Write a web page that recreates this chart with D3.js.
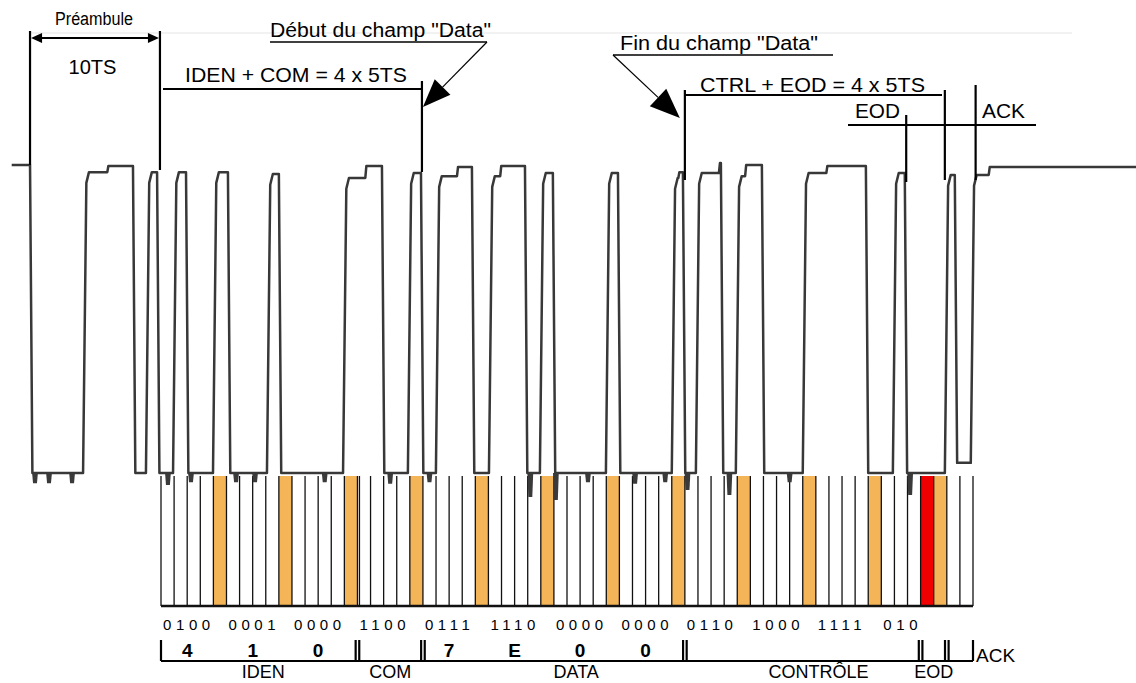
<!DOCTYPE html>
<html>
<head>
<meta charset="utf-8">
<script src="https://cdn.jsdelivr.net/npm/d3@7"></script>
<style>
  body { margin: 0; background: #fff; }
  svg { display: block; }
  text { font-family: "Liberation Sans", Arial, sans-serif; fill: #000; }
</style>
</head>
<body>
<svg id="chart" width="1136" height="683"></svg>
<script>
// ---- data (time in TS = time slots, level 0 = low, 1 = high) ----
const slotCount = 62;
const orangeSlots = [4, 9, 14, 19, 24, 29, 34, 39, 44, 49, 54, 59];
const redSlots = [58];
const bitGroups = ["0100", "0001", "0000", "1100", "0111", "1110", "0000", "0000", "0110", "1000", "1111", "010"];
const hexValues = ["4", "1", "0", "7", "E", "0", "0"];
const hexNibbles = [0, 1, 2, 4, 5, 6, 7];
const fieldBounds = [0, 15, 20, 40, 58, 60, 62];
const fieldNames = ["IDEN", "COM", "DATA", "CONTRÔLE", "EOD"];
const fieldLabelTS = [7.8, 17.5, 31.7, 50.2, 59];

// waveform pulses
const riseTS    = [-11.4, -5.95, -1.15, 0.92, 3.97, 8.09, 13.9, 18.85, 20.99, 25.04, 28.93, 33.97, 39.0, 40.84, 43.89, 49.0, 55.88, 59.85, 61.83];
const fallTS    = [-10.0, -2.14, -0.3, 1.91, 5.11, 9.0, 16.87, 19.85, 23.74, 27.79, 29.92, 34.89, 39.85, 42.75, 45.88, 53.82, 56.79, 60.61, null];
const topLevel  = [1.003, 0.98, 0.98, 0.98, 0.98, 0.974, 0.961, 0.977, 0.967, 0.967, 0.977, 0.977, 0.961, 0.977, 0.967, 0.977, 0.977, 0.971, 0.971];
const stepTS    = [null, -4.1, null, null, null, null, 15.6, null, 22.6, 25.9, null, null, 39.5, 42.6, 44.6, 50.8, null, null, 63.2];
const stepLevel = [null, 1.0, null, null, null, null, 1.0, null, 0.997, 1.0, null, null, 0.98, 1.01, 1.003, 1.0, null, null, 0.997];
const lowLevel  = [0, 0, 0, 0, 0, 0, 0, 0, 0, 0, 0, 0, 0, 0, 0, 0, 0, 0.033, 0];
const endTS = 74.5;

// little noise blobs hanging below the low level
const glitchTS    = [-9.62, -8.55, -6.79, 0.53, 2.29, 5.73, 7.18, 12.5, 17.5, 20.5, 28.2, 30.15, 32.6, 36.2, 38.5, 40.2, 43.4, 48.0, 57.2];
const glitchLevel = [-0.033, -0.033, -0.033, -0.039, -0.03, -0.03, -0.03, -0.03, -0.035, -0.03, -0.078, -0.088, -0.03, -0.035, -0.03, -0.055, -0.072, -0.03, -0.072];

const svg = d3.select("#chart");
const x = d3.scaleLinear().domain([0, slotCount]).range([161, 973]);
const y = d3.scaleLinear().domain([0, 1]).range([473, 166]);

const gridTop = 476, gridBottom = 606;

// faint scan line at the top
svg.append("line").attr("x1", 30).attr("x2", 1072).attr("y1", 33).attr("y2", 33)
  .attr("stroke", "#eeeeee").attr("stroke-width", 1.5);

// ---- slot grid ----
const grid = svg.append("g");
grid.selectAll("rect.orange")
  .data(orangeSlots)
  .enter().append("rect")
  .attr("class", "orange")
  .attr("x", d => x(d))
  .attr("y", gridTop)
  .attr("width", d => x(d + 1) - x(d))
  .attr("height", gridBottom - gridTop)
  .attr("fill", "#f3b558");

grid.selectAll("rect.red")
  .data(redSlots)
  .enter().append("rect")
  .attr("class", "red")
  .attr("x", d => x(d))
  .attr("y", gridTop)
  .attr("width", d => x(d + 1) - x(d))
  .attr("height", gridBottom - gridTop)
  .attr("fill", "#f00000");

grid.selectAll("line.slot")
  .data(d3.range(0, slotCount + 1))
  .enter().append("line")
  .attr("class", "slot")
  .attr("x1", d => x(d)).attr("x2", d => x(d))
  .attr("y1", gridTop).attr("y2", gridBottom)
  .attr("stroke", "#111").attr("stroke-width", 1.3);

// double line between IDEN and COM
grid.append("line")
  .attr("x1", x(15) + 2).attr("x2", x(15) + 2)
  .attr("y1", gridTop).attr("y2", gridBottom)
  .attr("stroke", "#111").attr("stroke-width", 1.3);

grid.append("line")
  .attr("x1", x(0)).attr("x2", x(slotCount))
  .attr("y1", gridBottom).attr("y2", gridBottom)
  .attr("stroke", "#111").attr("stroke-width", 2.5);

// ---- waveform ----
const pts = [];
riseTS.forEach((r, i) => {
  const top = topLevel[i];
  if (i === 0) {
    pts.push([r, top]);
  } else {
    const low = lowLevel[i - 1];
    pts.push([r, low], [r + 0.25, top - 0.035], [r + 0.45, top]);
  }
  let last = top;
  if (stepTS[i] != null) {
    pts.push([stepTS[i], top], [stepTS[i] + 0.08, stepLevel[i]]);
    last = stepLevel[i];
  }
  if (fallTS[i] != null) {
    pts.push([fallTS[i], last], [fallTS[i] + 0.18, lowLevel[i]]);
  } else {
    pts.push([endTS, last]);
  }
});

const line = d3.line().x(d => x(d[0])).y(d => y(d[1]));

svg.append("g").selectAll("path.glitch")
  .data(glitchTS.map((t, i) => [t, glitchLevel[i]]))
  .enter().append("path")
  .attr("class", "glitch")
  .attr("d", d => `M${x(d[0] - 0.22)},${y(0)} L${x(d[0] - 0.15)},${y(d[1])} L${x(d[0] + 0.15)},${y(d[1])} L${x(d[0] + 0.22)},${y(0)} Z`)
  .attr("fill", "#3a3a3a");

svg.append("path")
  .datum(pts)
  .attr("d", line)
  .attr("fill", "none")
  .attr("stroke", "#383838")
  .attr("stroke-width", 2.5)
  .attr("stroke-linejoin", "round");

// ---- bit / hex / field rows ----
svg.append("g").selectAll("text.bits")
  .data(bitGroups)
  .enter().append("text")
  .attr("class", "bits")
  .attr("x", (d, i) => x(i * 5) + 2)
  .attr("y", 630)
  .attr("font-size", 15)
  .attr("letter-spacing", "4.6px")
  .text(d => d);

svg.append("g").selectAll("text.hex")
  .data(hexValues)
  .enter().append("text")
  .attr("class", "hex")
  .attr("x", (d, i) => x(hexNibbles[i] * 5 + 2))
  .attr("y", 657)
  .attr("text-anchor", "middle")
  .attr("font-size", 19)
  .attr("font-weight", "bold")
  .text(d => d);

const brackets = svg.append("g").attr("stroke", "#000").attr("stroke-width", 2.2);
brackets.append("line")
  .attr("x1", x(0)).attr("x2", x(slotCount))
  .attr("y1", 661).attr("y2", 661);
fieldBounds.forEach((b, i) => {
  const offs = (i === 0 || i === fieldBounds.length - 1) ? [0] : [-1.8, 1.8];
  offs.forEach(o => {
    brackets.append("line")
      .attr("x1", x(b) + o).attr("x2", x(b) + o)
      .attr("y1", 640).attr("y2", 661);
  });
});

svg.append("g").selectAll("text.field")
  .data(fieldNames)
  .enter().append("text")
  .attr("class", "field")
  .attr("x", (d, i) => x(fieldLabelTS[i]))
  .attr("y", 678)
  .attr("text-anchor", "middle")
  .attr("font-size", 18)
  .text(d => d);

svg.append("text").attr("x", x(slotCount) + 3).attr("y", 662)
  .attr("font-size", 19).text("ACK");

// ---- annotations above the trace ----
const ann = svg.append("g").attr("stroke", "#000").attr("stroke-width", 2.2);
function vline(t, y1, y2) {
  ann.append("line").attr("x1", x(t)).attr("x2", x(t)).attr("y1", y1).attr("y2", y2);
}
function hline(x1, x2, yy, w) {
  ann.append("line").attr("x1", x1).attr("x2", x2).attr("y1", yy).attr("y2", yy)
    .attr("stroke-width", w || 2.2);
}
function arrowHead(tip, from, len, half) {
  const dx = tip[0] - from[0], dy = tip[1] - from[1];
  const L = Math.hypot(dx, dy), ux = dx / L, uy = dy / L;
  const bx = tip[0] - ux * len, by = tip[1] - uy * len;
  svg.append("path")
    .attr("d", `M${tip[0]},${tip[1]} L${bx - uy * half},${by + ux * half} L${bx + uy * half},${by - ux * half} Z`)
    .attr("fill", "#000");
  return [bx, by];
}

// preamble
vline(-10, 31, 165);
ann.append("line").attr("x1", x(-0.08)).attr("x2", x(-0.08)).attr("y1", 31).attr("y2", 170);
hline(x(-10) + 8, x(-0.08) - 8, 38);
arrowHead([x(-10) + 1, 38], [x(-10) + 20, 38], 11, 5);
arrowHead([x(-0.08) - 1, 38], [x(-0.08) - 20, 38], 11, 5);

// IDEN + COM
hline(x(0) + 2, x(20) - 1, 89);
ann.append("line").attr("x1", x(20) - 1).attr("x2", x(20) - 1).attr("y1", 81).attr("y2", 172);

// Début du champ "Data"
hline(270, 487, 42, 1.5);
{
  const tip = [x(20), 107], from = [487, 42];
  const base = arrowHead(tip, from, 28, 11);
  svg.append("line").attr("x1", from[0]).attr("y1", from[1]).attr("x2", base[0]).attr("y2", base[1])
    .attr("stroke", "#000").attr("stroke-width", 1.2);
}

// Fin du champ "Data"
hline(613, 833, 55, 1.5);
{
  const tip = [x(40) - 5, 118], from = [613, 55];
  const base = arrowHead(tip, from, 30, 12);
  svg.append("line").attr("x1", from[0]).attr("y1", from[1]).attr("x2", base[0]).attr("y2", base[1])
    .attr("stroke", "#000").attr("stroke-width", 1.2);
}

// CTRL + EOD
vline(40, 90, 180);
hline(x(40), 942, 95);
vline(59.85, 90, 180);

// EOD / ACK
hline(848, 1036, 125);
vline(56.9, 115, 182);
vline(62.2, 85, 180);

const labels = [
  { t: "Préambule", x: 94, y: 25, s: 18, w: 78, a: "middle" },
  { t: "10TS", x: 92.5, y: 74, s: 20, w: 48, a: "middle" },
  { t: "IDEN + COM = 4 x 5TS", x: 185, y: 82, s: 21, w: 222, a: "start" },
  { t: "Début du champ \"Data\"", x: 270, y: 37, s: 20, w: 221, a: "start" },
  { t: "Fin du champ \"Data\"", x: 620, y: 50, s: 20, w: 198, a: "start" },
  { t: "CTRL + EOD = 4 x 5TS", x: 700, y: 92, s: 21, w: 225, a: "start" },
  { t: "EOD", x: 855, y: 118, s: 20, w: 45, a: "start" },
  { t: "ACK", x: 982, y: 118, s: 20, w: 43, a: "start" }
];
svg.append("g").selectAll("text.ann")
  .data(labels)
  .enter().append("text")
  .attr("class", "ann")
  .attr("x", d => d.x)
  .attr("y", d => d.y)
  .attr("font-size", d => d.s)
  .attr("text-anchor", d => d.a)
  .attr("textLength", d => d.w)
  .attr("lengthAdjust", "spacingAndGlyphs")
  .text(d => d.t);
</script>
</body>
</html>
